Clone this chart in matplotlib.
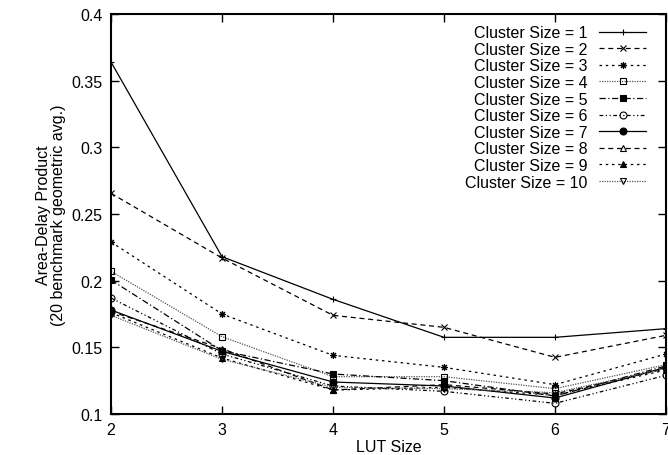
import matplotlib
matplotlib.use("Agg")
import matplotlib.pyplot as plt

plt.rcParams['font.family'] = ['Liberation Sans', 'DejaVu Sans']

lut_sizes = [2, 3, 4, 5, 6, 7]
cluster_labels = ["Cluster Size = %d" % i for i in range(1, 11)]
cs1 = [0.364, 0.218, 0.186, 0.1575, 0.1575, 0.164]
cs2 = [0.2655, 0.217, 0.174, 0.165, 0.1425, 0.159]
cs3 = [0.229, 0.175, 0.144, 0.135, 0.122, 0.145]
cs4 = [0.207, 0.158, 0.128, 0.128, 0.119, 0.137]
cs5 = [0.2005, 0.1475, 0.130, 0.125, 0.1135, 0.136]
cs6 = [0.187, 0.145, 0.121, 0.117, 0.108, 0.129]
cs7 = [0.178, 0.147, 0.124, 0.121, 0.112, 0.135]
cs8 = [0.177, 0.149, 0.118, 0.122, 0.115, 0.134]
cs9 = [0.176, 0.142, 0.118, 0.120, 0.114, 0.133]
cs10 = [0.174, 0.141, 0.120, 0.119, 0.116, 0.134]
series = [cs1, cs2, cs3, cs4, cs5, cs6, cs7, cs8, cs9, cs10]

styles = [
    dict(ls='-', marker='+', mfc='none', color='black'),
    dict(ls=(0, (4, 3)), marker='x', mfc='none', color='black'),
    dict(ls=(0, (2, 3)), marker=(8, 2, 0), mfc='none', color='black'),
    dict(ls=(0, (1, 1)), marker='s', mfc='none', color='#555555', mec='black'),
    dict(ls=(0, (5, 2, 1, 2)), marker='s', mfc='black', color='black'),
    dict(ls=(0, (3, 2, 1, 2, 1, 2)), marker='o', mfc='none', color='black'),
    dict(ls='-', marker='o', mfc='black', color='black'),
    dict(ls=(0, (4, 3)), marker='^', mfc='none', color='black'),
    dict(ls=(0, (2, 3)), marker='^', mfc='black', color='black'),
    dict(ls=(0, (1, 1)), marker='v', mfc='none', color='#555555', mec='black'),
]

fig = plt.figure(figsize=(6.68, 4.56), dpi=100)
ax = fig.add_axes([111/668, 41/456, 555/668, 400/456])

for vals, lab, st in zip(series, cluster_labels, styles):
    ax.plot(lut_sizes, vals, label=lab, lw=0.9, ms=5, mew=0.8, **st)

ax.set_xlim(2, 7)
ax.set_ylim(0.1, 0.4)
ax.set_xticks(lut_sizes)
ax.set_xticklabels([str(v) for v in lut_sizes])
yt = [0.1, 0.15, 0.2, 0.25, 0.3, 0.35, 0.4]
ax.set_yticks(yt)
ax.set_yticklabels(["0.1", "0.15", "0.2", "0.25", "0.3", "0.35", "0.4"])
ax.tick_params(direction='in', top=True, right=True, length=6, width=1, labelsize=11.5, pad=6)
for sp in ax.spines.values():
    sp.set_linewidth(1.5)
ax.set_xlabel("LUT Size", fontsize=11.5, labelpad=1)
ax.set_ylabel("Area-Delay Product\n(20 benchmark geometric avg.)", fontsize=11.5, labelpad=4, linespacing=1.0)

leg = ax.legend(loc='upper right', frameon=False, markerfirst=False, fontsize=11.5,
                numpoints=1, handlelength=3.0, labelspacing=0.1, borderaxespad=0.3,
                handletextpad=0.7, bbox_to_anchor=(0.985, 1.0))
for col in leg._legend_handle_box.get_children():
    col.align = "right"

fig.savefig("out.png", dpi=100)
